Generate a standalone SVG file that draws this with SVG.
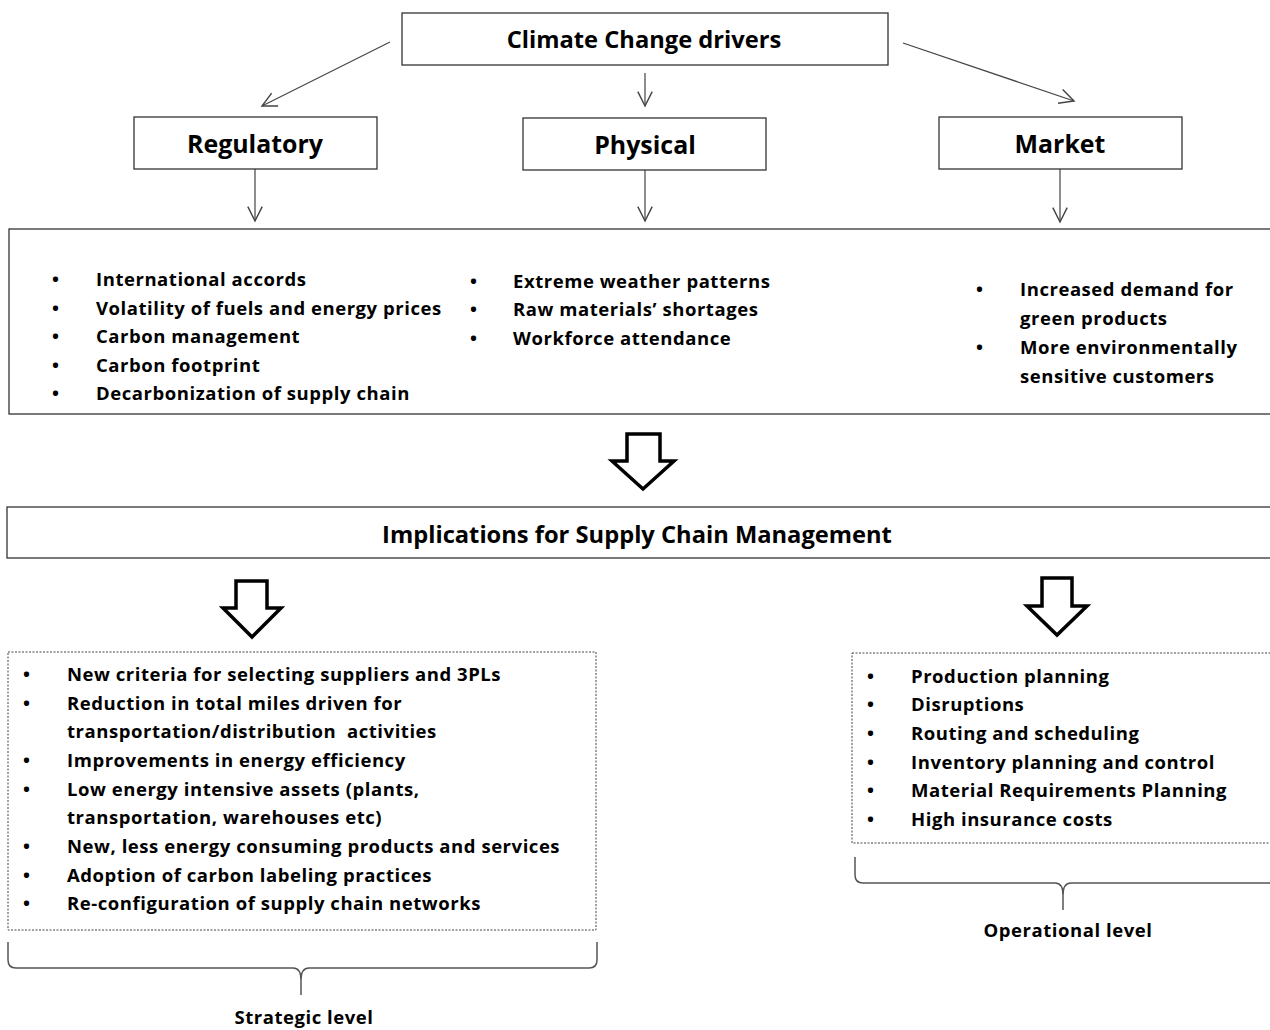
<svg xmlns="http://www.w3.org/2000/svg" width="1270" height="1030" viewBox="0 0 1270 1030">
<defs>
<style>
.box{fill:#fff;stroke:#333;stroke-width:1.3}
.dash{fill:#fff;stroke:#444;stroke-width:1;stroke-dasharray:2 1.5}
.h{font-family:"Open Sans","Liberation Sans",sans-serif;font-weight:700;font-size:23.7px;fill:#000;text-anchor:middle}
.hb{font-size:24.9px}
.t{font-family:"Open Sans","Liberation Sans",sans-serif;font-weight:700;font-size:18.5px;letter-spacing:0.55px;fill:#000}
.c{stroke:#444;stroke-width:1.2;fill:none}
.blk{fill:#fff;stroke:#000;stroke-width:3.5;stroke-linejoin:miter}
.br{fill:none;stroke:#555;stroke-width:1.5}
</style>
<marker id="v" viewBox="0 0 20 20" refX="18" refY="10" markerWidth="18" markerHeight="18" markerUnits="userSpaceOnUse" orient="auto">
<path d="M2,2 L18,10 L2,18" fill="none" stroke="#444" stroke-width="1.6"/>
</marker>
</defs>

<g id="connectors">
<line class="c" x1="390" y1="42" x2="262" y2="106" marker-end="url(#v)"/>
<line class="c" x1="645" y1="73" x2="645" y2="106" marker-end="url(#v)"/>
<line class="c" x1="903" y1="43" x2="1074" y2="101" marker-end="url(#v)"/>
<line class="c" x1="255" y1="169" x2="255" y2="221" marker-end="url(#v)"/>
<line class="c" x1="645" y1="170" x2="645" y2="221" marker-end="url(#v)"/>
<line class="c" x1="1060" y1="169" x2="1060" y2="222" marker-end="url(#v)"/>
<path class="blk" d="M627,434 H660 V461 H674 L643,489 L612,461 H627 Z"/>
<path class="blk" d="M236,581 H267 V608 H281 L252,637 L223,608 H236 Z"/>
<path class="blk" d="M1042,578 H1072 V606 H1087 L1057,635 L1027,606 H1042 Z"/>
</g>

<g id="climate">
<rect class="box" x="402" y="13" width="486" height="52"/>
<text class="h" x="644" y="48">Climate Change drivers</text>
</g>
<g id="regulatory">
<rect class="box" x="134" y="117" width="243" height="52"/>
<text class="h hb" x="255" y="153">Regulatory</text>
</g>
<g id="physical">
<rect class="box" x="523" y="118" width="243" height="52"/>
<text class="h hb" x="645" y="154">Physical</text>
</g>
<g id="market">
<rect class="box" x="939" y="117" width="243" height="52"/>
<text class="h hb" x="1060" y="153">Market</text>
</g>

<g id="drivers-detail">
<rect class="box" x="9" y="229" width="1270" height="185"/>
<g class="t">
<text x="52" y="286">•</text><text x="96" y="286">International accords</text>
<text x="52" y="315">•</text><text x="96" y="315">Volatility of fuels and energy prices</text>
<text x="52" y="343">•</text><text x="96" y="343">Carbon management</text>
<text x="52" y="372">•</text><text x="96" y="372">Carbon footprint</text>
<text x="52" y="400">•</text><text x="96" y="400">Decarbonization of supply chain</text>
<text x="470" y="288">•</text><text x="513" y="288">Extreme weather patterns</text>
<text x="470" y="316">•</text><text x="513" y="316">Raw materials’ shortages</text>
<text x="470" y="345">•</text><text x="513" y="345">Workforce attendance</text>
<text x="976" y="296">•</text><text x="1020" y="296">Increased demand for</text>
<text x="1020" y="325">green products</text>
<text x="976" y="354">•</text><text x="1020" y="354">More environmentally</text>
<text x="1020" y="383">sensitive customers</text>
</g>
</g>

<g id="implications">
<rect class="box" x="7" y="507" width="1270" height="51"/>
<text class="h" x="637" y="543">Implications for Supply Chain Management</text>
</g>

<g id="strategic">
<rect class="dash" x="8" y="652" width="588" height="278"/>
<g class="t">
<text x="23" y="681">•</text><text x="67" y="681">New criteria for selecting suppliers and 3PLs</text>
<text x="23" y="710">•</text><text x="67" y="710">Reduction in total miles driven for</text>
<text x="67" y="738" xml:space="preserve">transportation/distribution  activities</text>
<text x="23" y="767">•</text><text x="67" y="767">Improvements in energy efficiency</text>
<text x="23" y="796">•</text><text x="67" y="796">Low energy intensive assets (plants,</text>
<text x="67" y="824">transportation, warehouses etc)</text>
<text x="23" y="853">•</text><text x="67" y="853">New, less energy consuming products and services</text>
<text x="23" y="882">•</text><text x="67" y="882">Adoption of carbon labeling practices</text>
<text x="23" y="910">•</text><text x="67" y="910">Re-configuration of supply chain networks</text>
</g>
<path class="br" d="M8,942 V960 Q8,968 16,968 H293 Q301,968 301,980 V995 M301,980 Q301,968 309,968 H589 Q597,968 597,960 V942"/>
<text class="t" x="304" y="1024" text-anchor="middle">Strategic level</text>
</g>

<g id="operational">
<rect class="dash" x="852" y="653" width="430" height="190"/>
<g class="t">
<text x="867" y="683">•</text><text x="911" y="683">Production planning</text>
<text x="867" y="711">•</text><text x="911" y="711">Disruptions</text>
<text x="867" y="740">•</text><text x="911" y="740">Routing and scheduling</text>
<text x="867" y="769">•</text><text x="911" y="769">Inventory planning and control</text>
<text x="867" y="797">•</text><text x="911" y="797">Material Requirements Planning</text>
<text x="867" y="826">•</text><text x="911" y="826">High insurance costs</text>
</g>
<path class="br" d="M855,857 V875 Q855,883 863,883 H1055 Q1063,883 1063,895 V910 M1063,895 Q1063,883 1071,883 H1270"/>
<text class="t" x="1068" y="937" text-anchor="middle">Operational level</text>
</g>
</svg>
